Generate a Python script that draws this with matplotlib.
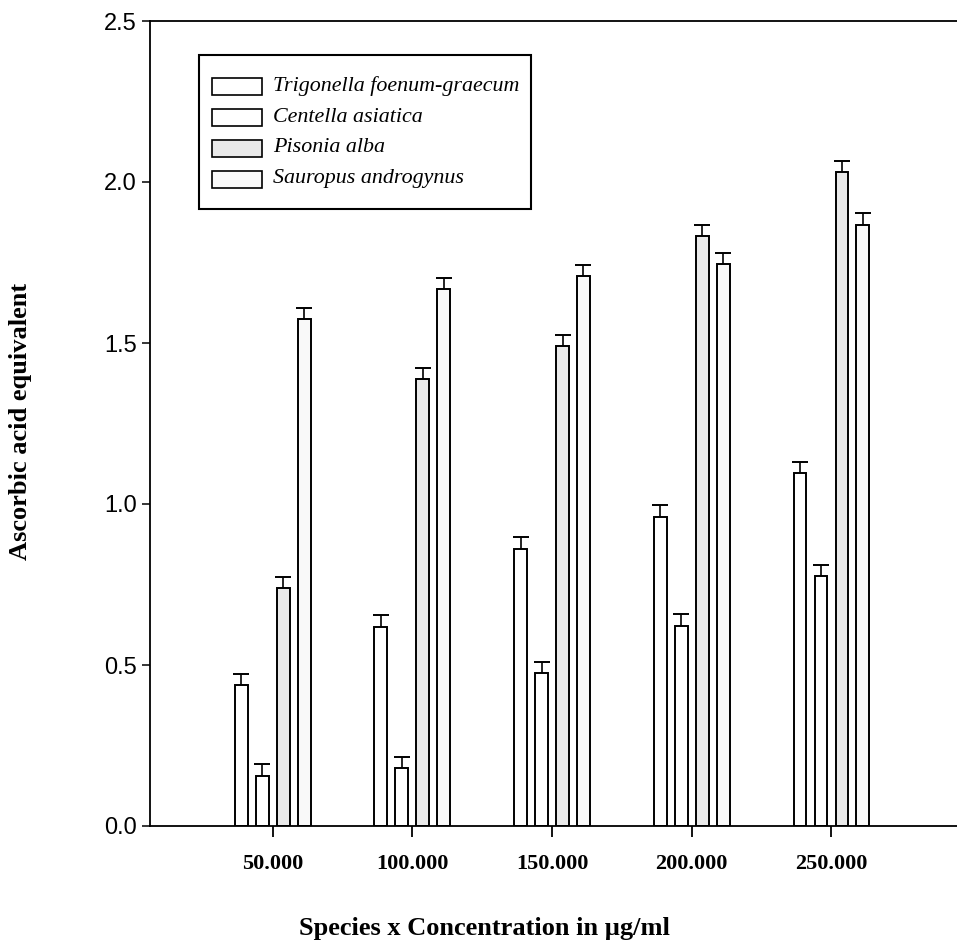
import numpy as np
import matplotlib
matplotlib.use("Agg")
import matplotlib.pyplot as plt
from matplotlib.patches import Rectangle

# Concentrations (µg/ml) and species
concentrations = [50, 100, 150, 200, 250]
species = ["Trigonella foenum-graecum", "Centella asiatica",
           "Pisonia alba", "Sauropus androgynus"]

# Ascorbic acid equivalent (mean) per species at each concentration
trigonella = [0.438, 0.619, 0.861, 0.961, 1.095]
centella = [0.154, 0.179, 0.474, 0.622, 0.776]
pisonia = [0.738, 1.387, 1.491, 1.832, 2.031]
sauropus = [1.575, 1.667, 1.707, 1.745, 1.867]

# Standard errors (upper bars only)
trigonella_err = [0.035, 0.035, 0.037, 0.036, 0.035]
centella_err = [0.037, 0.034, 0.036, 0.037, 0.035]
pisonia_err = [0.036, 0.036, 0.034, 0.035, 0.035]
sauropus_err = [0.035, 0.035, 0.035, 0.035, 0.036]

y_ticks = [0.0, 0.5, 1.0, 1.5, 2.0, 2.5]
x_tick_labels = ["50.000", "100.000", "150.000", "200.000", "250.000"]

means = [trigonella, centella, pisonia, sauropus]
errors = [trigonella_err, centella_err, pisonia_err, sauropus_err]
faces = ["white", "white", "#e9e9e9", "#f9f9f9"]
offsets = [-11.25, -3.75, 3.75, 11.25]
bar_width = 4.6

W, H = 957, 944
AX_L, AX_B, AX_W, AX_H = 150, 118, 807, 805

fig = plt.figure(figsize=(W / 100, H / 100), dpi=100)
ax = fig.add_axes([AX_L / W, AX_B / H, AX_W / W, AX_H / H])

x = np.array(concentrations, dtype=float)
for vals, errs, fc, off in zip(means, errors, faces, offsets):
    ax.bar(x + off, vals, width=bar_width, facecolor=fc,
           edgecolor="black", linewidth=1.4, zorder=2)
    eb = ax.errorbar(x + off, vals, yerr=[np.zeros(len(vals)), errs],
                     fmt="none", ecolor="black", elinewidth=1.2,
                     capsize=6.1, capthick=1.4, zorder=3)
    eb[1][0].set_visible(False)

ax.set_xlim(6.1, 6.1 + AX_W / 2.794)
ax.set_ylim(0, 2.5)
ax.set_yticks(y_ticks)
ax.set_yticklabels([f"{t:.1f}" for t in y_ticks],
                   family="Liberation Sans", fontsize=17)
ax.set_xticks(concentrations)
ax.set_xticklabels(x_tick_labels, family="Liberation Serif",
                   fontweight="bold", fontsize=16)

ax.tick_params(axis="y", direction="out", length=5.5, width=1.1, pad=4)
ax.tick_params(axis="x", direction="out", length=8, width=1.3, pad=12)

for side in ["left", "bottom", "top"]:
    ax.spines[side].set_linewidth(1.3)
ax.spines["right"].set_visible(False)

ax.set_xlabel("Species x Concentration in µg/ml", family="Liberation Serif",
              fontweight="bold", fontsize=19)
ax.xaxis.set_label_coords(0.415, -0.113)
ax.set_ylabel("Ascorbic acid equivalent", family="Liberation Serif",
              fontweight="bold", fontsize=19)
ax.yaxis.set_label_coords(-0.146, 0.502)


def to_axes(px, py):
    """Pixel position (from the figure's top-left) to axes-fraction coordinates."""
    return (px - AX_L) / AX_W, (H - AX_B - py) / AX_H


# Legend box with swatches
fx0, fy1 = to_axes(199, 55)
fx1, fy0 = to_axes(531, 209)
ax.add_patch(Rectangle((fx0, fy0), fx1 - fx0, fy1 - fy0, transform=ax.transAxes,
                       facecolor="white", edgecolor="black", linewidth=1.5,
                       zorder=5, clip_on=False))
row_centers = [86, 117, 148, 179]
for name, fc, cy in zip(species, faces, row_centers):
    sx0, sy1 = to_axes(212, cy - 8.5)
    sx1, sy0 = to_axes(262, cy + 8.5)
    ax.add_patch(Rectangle((sx0, sy0), sx1 - sx0, sy1 - sy0,
                           transform=ax.transAxes, facecolor=fc,
                           edgecolor="black", linewidth=1.2, zorder=6,
                           clip_on=False))
    tx, ty = to_axes(273, cy)
    ax.text(tx, ty, name, transform=ax.transAxes, family="Liberation Serif",
            style="italic", fontsize=15.8, va="center", ha="left", zorder=7)

fig.savefig("out.png", dpi=100)
